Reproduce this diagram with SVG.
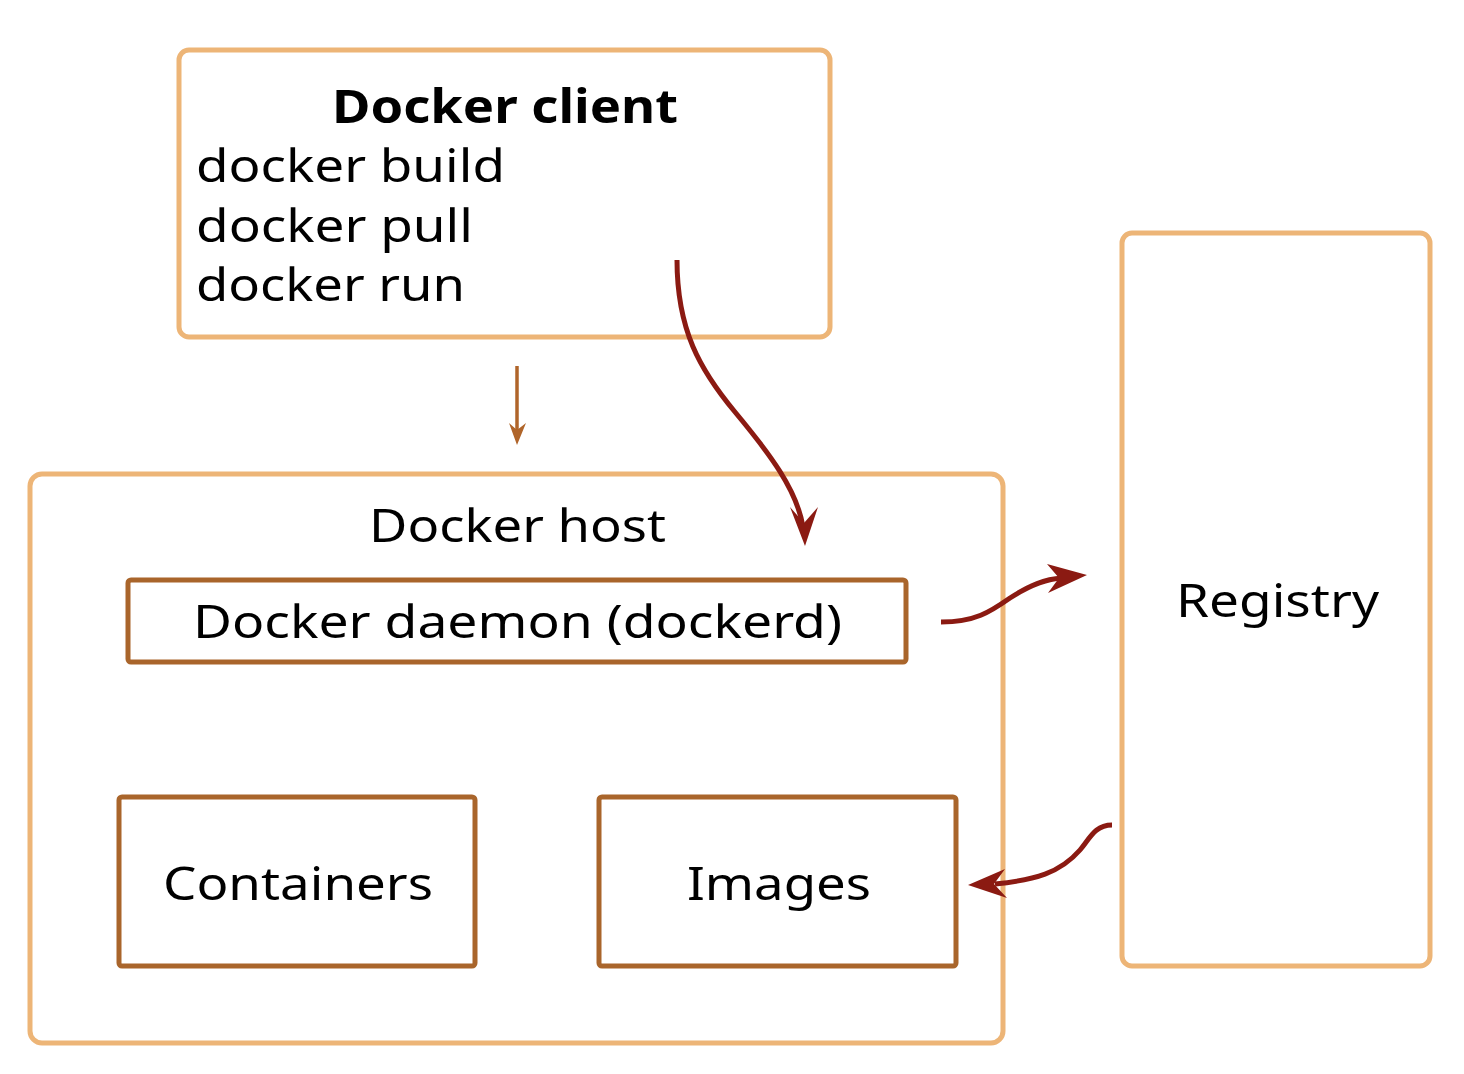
<svg xmlns="http://www.w3.org/2000/svg" width="1464" height="1074" viewBox="0 0 1464 1074">
<style>
.outer{fill:#fff;stroke:#EDB577;stroke-width:5}
.inner{fill:#fff;stroke:#A9652B;stroke-width:5}
.t{font-family:"Noto Sans","Open Sans",sans-serif;font-size:46px;fill:#000}
.b{font-weight:bold}
.red{fill:none;stroke:#8B1A12;stroke-width:5;stroke-linecap:butt}
.redhead{fill:#8B1A12}
.brown{fill:none;stroke:#B0652A;stroke-width:3.5}
.brownhead{fill:#B0652A}
</style>
<rect width="1464" height="1074" fill="#fff"/>
<g id="docker-host">
<rect class="outer" x="30" y="474" width="973" height="569" rx="12"/>
<text class="t" x="369" y="542" textLength="297" lengthAdjust="spacingAndGlyphs">Docker host</text>
</g>
<g id="docker-daemon">
<rect class="inner" x="128" y="580" width="778" height="82" rx="3"/>
<text class="t" x="193" y="638" textLength="649" lengthAdjust="spacingAndGlyphs">Docker daemon (dockerd)</text>
</g>
<g id="containers">
<rect class="inner" x="119" y="797" width="356" height="169" rx="3"/>
<text class="t" x="163" y="900" textLength="270" lengthAdjust="spacingAndGlyphs">Containers</text>
</g>
<g id="images">
<rect class="inner" x="599" y="797" width="357" height="169" rx="3"/>
<text class="t" x="687" y="900" textLength="184" lengthAdjust="spacingAndGlyphs">Images</text>
</g>
<g id="docker-client">
<rect class="outer" x="179" y="50" width="651" height="287" rx="10"/>
<text class="t b" x="332" y="123" textLength="346" lengthAdjust="spacingAndGlyphs">Docker client</text>
<text class="t" x="196" y="182" textLength="309" lengthAdjust="spacingAndGlyphs">docker build</text>
<text class="t" x="196" y="242" textLength="277" lengthAdjust="spacingAndGlyphs">docker pull</text>
<text class="t" x="196" y="301" textLength="269" lengthAdjust="spacingAndGlyphs">docker run</text>
</g>
<g id="registry">
<rect class="outer" x="1122" y="233" width="308" height="733" rx="10"/>
<text class="t" x="1176" y="617" textLength="203" lengthAdjust="spacingAndGlyphs">Registry</text>
</g>
<g id="connectors">
<path class="brown" d="M517,366 L517,432"/>
<path class="brownhead" d="M517,445 L509,423 L517,430 L526,423 Z"/>
<path class="red" d="M677,260 C677,330 700,370 735,412 C770,454 797,490 803,527"/>
<path class="redhead" d="M805,546 L790,507 L804,523 L818,507 Z"/>
<path class="red" d="M941,622 C975,622 990,612 1010,598 C1030,585 1045,579 1062,578"/>
<path class="redhead" d="M1087,575 L1047,564 L1059,578 L1048,593 Z"/>
<path class="red" d="M1112,825 C1095,825 1090,838 1080,850 C1060,873 1035,880 995,884"/>
<path class="redhead" d="M968,885 L1005,869 L994,884 L1007,898 Z"/>
</g>
</svg>
